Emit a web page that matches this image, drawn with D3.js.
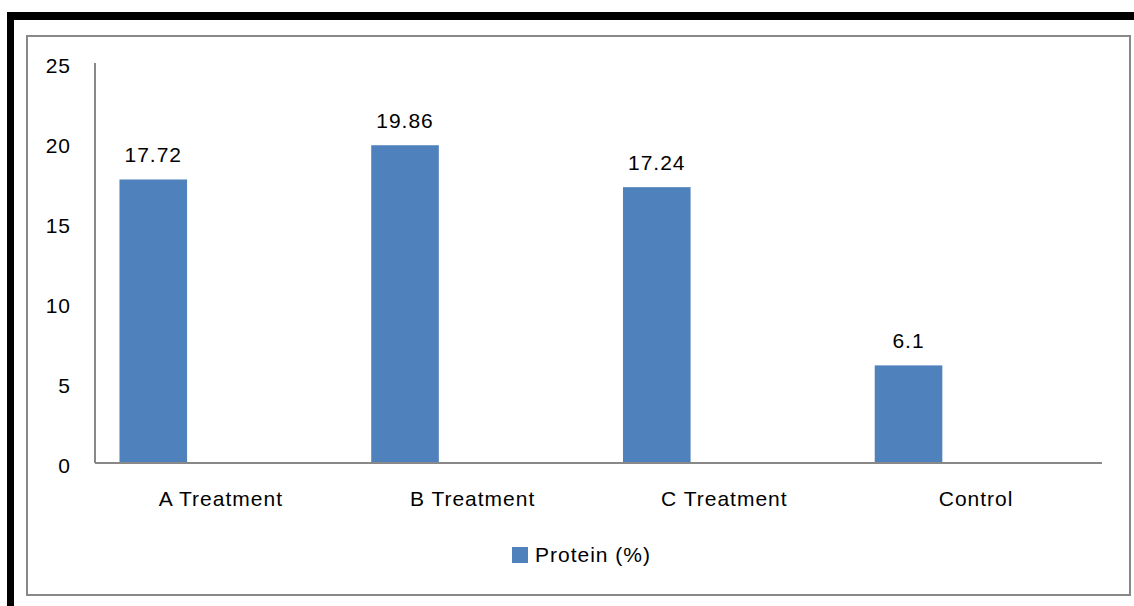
<!DOCTYPE html>
<html>
<head>
<meta charset="utf-8">
<script src="https://cdn.jsdelivr.net/npm/d3@7"></script>
<style>
  html, body { margin: 0; padding: 0; background: #fff; }
  svg { display: block; }
  text { font-family: "Liberation Sans", Arial, sans-serif; font-size: 21px; fill: #000; letter-spacing: 1px; }
</style>
</head>
<body>
<svg id="chart" width="1134" height="606"></svg>
<script>
// data
const categories = ['A Treatment', 'B Treatment', 'C Treatment', 'Control'];
const protein = [17.72, 19.86, 17.24, 6.1];
const seriesName = 'Protein (%)';
const yTicks = [0, 5, 10, 15, 20, 25];

const W = 1134, H = 606;
const svg = d3.select('#chart');

/* ── frame ── */
svg.append('rect').attr('x', 7).attr('y', 12).attr('width', W - 7).attr('height', 8).attr('fill', '#000');
svg.append('rect').attr('x', 7).attr('y', 12).attr('width', 7).attr('height', H - 12).attr('fill', '#000');
svg.append('rect').attr('x', 27).attr('y', 36).attr('width', 1103).attr('height', 559)
  .attr('fill', '#fff').attr('stroke', '#888').attr('stroke-width', 2);

/* ── scales ── */
const pLeft = 95, pRight = 1102, pTop = 63, pBottom = 463;
const x = d3.scaleBand().domain(categories).range([pLeft, pRight]).padding(0);
// bars sit in the first of three slots per category (like an Excel cluster)
const slot = d3.scaleBand().domain([0, 1, 2]).range([0, x.bandwidth()]).paddingInner(0).paddingOuter(0.362);
const y = d3.scaleLinear().domain([0, 25]).range([pBottom, pTop]);

/* ── y labels ── */
svg.append('g').selectAll('text').data(yTicks).join('text')
  .attr('x', 71).attr('y', d => y(d) + 10)
  .attr('text-anchor', 'end')
  .text(d => d);

/* ── bars ── */
svg.append('g').selectAll('rect').data(protein).join('rect')
  .attr('x', (d, i) => x(categories[i]) + slot(0))
  .attr('y', d => y(d))
  .attr('width', slot.bandwidth())
  .attr('height', d => y(0) - y(d))
  .attr('fill', '#4F81BD');

svg.append('g').selectAll('text').data(protein).join('text')
  .attr('x', (d, i) => x(categories[i]) + slot(0) + slot.bandwidth() / 2)
  .attr('y', d => y(d) - 17)
  .attr('text-anchor', 'middle')
  .text(d => d);

/* ── axes ── */
svg.append('line').attr('x1', pLeft).attr('x2', pLeft).attr('y1', pTop).attr('y2', pBottom)
  .attr('stroke', '#888').attr('stroke-width', 2);
svg.append('line').attr('x1', pLeft).attr('x2', pRight).attr('y1', pBottom).attr('y2', pBottom)
  .attr('stroke', '#888').attr('stroke-width', 2);

svg.append('g').selectAll('text').data(categories).join('text')
  .attr('x', d => x(d) + x.bandwidth() / 2)
  .attr('y', 506)
  .attr('text-anchor', 'middle')
  .text(d => d);

/* ── legend ── */
const lg = svg.append('g').attr('transform', 'translate(512,547)');
lg.append('rect').attr('width', 16).attr('height', 16).attr('fill', '#4F81BD');
lg.append('text').attr('x', 23).attr('y', 15).text(seriesName);
</script>
</body>
</html>
